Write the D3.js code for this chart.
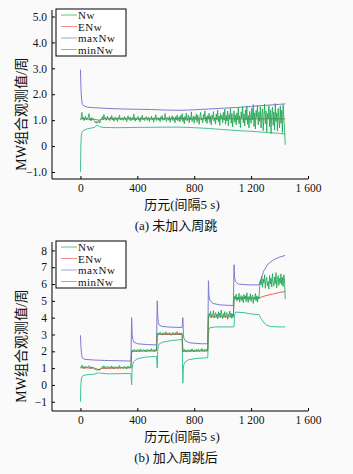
<!DOCTYPE html>
<html>
<head>
<meta charset="utf-8">
<script src="https://cdn.jsdelivr.net/npm/d3@7"></script>
<style>
  body { margin: 0; background: #fafafa; }
  svg text { font-family: "Liberation Serif", "DejaVu Serif", "Noto Sans CJK SC", serif; fill: #111; }
  .axis path, .axis line { stroke: #000; }
  .axis text { font-size: 11.5px; }
</style>
</head>
<body>
<div id="chart"></div>
<script>
// sample epochs for the noisy Nw series (every 5 epochs)
const epochs = d3.range(0, 1445, 5);

const seriesNames = ['Nw', 'ENw', 'maxNw', 'minNw'];
const xTicks = [0, 400, 800, 1200, 1600];

// ---- (a) without cycle slips ----
const nwA = [
  1.00, 1.08, 1.30, 1.05, 1.12, 0.98, 1.06, 1.15, 1.02, 1.09,
  1.04, 1.11, 1.25, 1.00, 1.07, 0.97, 1.10, 1.03, 1.06, 0.99,
  0.94, 0.90, 0.96, 0.88, 0.93, 0.91, 0.99, 0.89, 0.95, 1.02,
  1.08, 1.14, 1.01, 1.22, 1.06, 1.10, 0.99, 1.05, 1.16, 1.03,
  1.07, 0.98, 1.12, 1.04, 1.18, 1.01, 1.09, 0.96, 1.06, 1.13,
  1.02, 1.08, 0.95, 1.11, 1.05, 1.20, 1.00, 1.07, 1.03, 1.10,
  0.99, 1.06, 1.14, 1.02, 1.09, 0.94, 1.08, 1.17, 1.03, 1.05,
  1.12, 0.97, 1.06, 1.10, 1.01, 1.24, 1.04, 0.96, 1.09, 1.02,
  1.08, 1.15, 1.00, 1.06, 0.93, 1.11, 1.04, 1.19, 1.02, 1.07,
  0.98, 1.10, 1.05, 1.14, 0.99, 1.06, 1.12, 0.95, 1.08, 1.03,
  1.16, 1.01, 1.07, 0.92, 1.10, 1.04, 1.21, 0.98, 1.06, 1.11,
  1.00, 1.08, 0.94, 1.13, 1.05, 1.18, 0.99, 1.07, 1.02, 1.26,
  1.03, 0.95, 1.11, 1.06, 1.00, 1.15, 0.92, 1.09, 1.04, 1.17,
  0.98, 1.12, 1.05, 0.90, 1.14, 1.02, 1.20, 0.97, 1.08, 1.13,
  0.93, 1.18, 1.04, 1.25, 0.95, 1.10, 0.86, 1.15, 1.02, 1.28,
  0.97, 1.08, 1.20, 0.90, 1.12, 1.01, 1.32, 0.94, 1.06, 1.16,
  0.88, 1.14, 1.03, 1.24, 0.92, 1.19, 1.05, 0.84, 1.12, 1.30,
  1.00, 1.09, 0.90, 1.22, 1.06, 1.36, 0.95, 1.13, 0.87, 1.18,
  1.04, 1.27, 0.91, 1.15, 0.82, 1.20, 1.08, 1.33, 0.96, 1.11,
  0.85, 1.24, 1.02, 1.38, 0.93, 1.16, 0.80, 1.26, 1.06, 1.19,
  0.90, 1.30, 1.00, 1.42, 0.84, 1.18, 0.97, 1.35, 0.78, 1.22,
  1.05, 1.45, 0.88, 1.26, 0.74, 1.15, 1.36, 0.92, 1.20, 0.82,
  1.28, 1.02, 1.48, 0.86, 1.17, 0.72, 1.32, 1.08, 1.52, 0.90,
  1.24, 0.78, 1.40, 1.00, 1.55, 0.84, 1.18, 0.70, 1.34, 1.12,
  0.88, 1.46, 1.02, 1.60, 0.76, 1.28, 0.66, 1.38, 1.10, 1.58,
  0.82, 1.30, 0.95, 1.52, 0.70, 1.22, 1.44, 0.60, 1.18, 1.62,
  0.86, 1.36, 0.55, 1.25, 1.05, 1.56, 0.74, 1.40, 0.48, 1.20,
  1.50, 0.80, 1.32, 0.62, 1.64, 0.95, 1.28, 0.58, 1.45, 1.02,
  0.70, 1.55, 0.88, 1.38, 0.52, 1.60, 1.10, 0.65, 0.05
];
const enwA = [[0, 1.05], [100, 1.03], [130, 1.0], [160, 1.05], [700, 1.05], [1440, 1.05]];
const maxA = [[0, 2.95], [4, 2.2], [8, 1.8], [14, 1.6], [25, 1.55], [50, 1.5], [100, 1.48],
  [200, 1.45], [300, 1.43], [400, 1.42], [500, 1.41], [600, 1.39], [700, 1.38], [800, 1.4],
  [900, 1.43], [1000, 1.46], [1100, 1.49], [1200, 1.53], [1300, 1.57], [1400, 1.61], [1440, 1.63]];
const minA = [[0, -1.0], [3, 0.0], [6, 0.4], [12, 0.55], [25, 0.62], [50, 0.67], [80, 0.7],
  [100, 0.72], [110, 0.78], [120, 0.8], [135, 0.75], [160, 0.72], [250, 0.71], [400, 0.72],
  [600, 0.73], [700, 0.73], [800, 0.71], [900, 0.68], [1000, 0.64], [1100, 0.6], [1200, 0.57],
  [1300, 0.53], [1400, 0.49], [1440, 0.46]];

// ---- (b) with cycle slips ----
const nwB = [
  1.00, 1.06, 1.18, 1.03, 1.10, 0.97, 1.05, 1.12, 1.01, 1.07,
  1.03, 1.09, 1.15, 0.99, 1.06, 0.96, 1.08, 1.02, 1.05, 0.98,
  0.95, 0.90, 0.93, 0.86, 0.91, 0.88, 0.96, 0.87, 0.94, 1.00,
  1.05, 1.10, 0.99, 1.14, 1.03, 1.08, 0.97, 1.04, 1.12, 1.01,
  1.06, 0.98, 1.09, 1.02, 1.13, 1.00, 1.07, 0.95, 1.04, 1.10,
  1.01, 1.06, 0.96, 1.09, 1.03, 1.15, 0.99, 1.05, 1.02, 1.08,
  0.98, 1.04, 1.11, 1.00, 1.07, 0.94, 1.06, 1.13, 1.02, 1.05,
  1.09, 0.99,
  2.00, 2.08, 1.97, 2.05, 2.12, 2.01, 2.06, 1.98, 2.10, 2.03,
  2.07, 1.99, 2.14, 2.04, 2.09, 2.00, 2.06, 2.11, 2.02, 2.08,
  1.96, 2.05, 2.13, 2.03, 2.07, 2.00, 2.10, 2.04, 2.16, 2.01,
  2.06, 2.09, 1.98, 2.12, 2.04, 2.07,
  3.02, 3.10, 2.98, 3.07, 3.14, 3.01, 3.06, 2.96, 3.11, 3.04,
  3.08, 3.00, 3.16, 3.03, 3.09, 2.97, 3.06, 3.12, 3.01, 3.07,
  2.95, 3.05, 3.13, 3.02, 3.08, 2.99, 3.11, 3.04, 3.17, 3.00,
  3.06, 3.10, 2.97, 3.09, 3.03, 3.08,
  1.98, 2.06, 2.12, 2.00, 2.08, 1.95, 2.04, 2.11, 2.02, 2.07,
  1.97, 2.10, 2.03, 2.15, 2.01, 2.06, 1.96, 2.09, 2.04, 2.12,
  2.00, 2.07, 2.14, 1.98, 2.05, 2.10, 2.02, 2.17, 2.03, 2.08,
  1.99, 2.11, 2.05, 2.13, 2.01, 2.06,
  4.05, 4.25, 4.10, 4.38, 4.00, 4.20, 4.12, 4.42, 3.98, 4.18,
  4.30, 4.05, 4.22, 3.92, 4.35, 4.10, 4.28, 4.02, 4.45, 4.15,
  3.95, 4.24, 4.08, 4.36, 4.00, 4.18, 4.30, 3.90, 4.20, 4.12,
  4.40, 4.05, 4.26, 3.96, 4.22, 4.10,
  5.05, 5.28, 5.10, 5.40, 4.98, 5.22, 5.08, 5.45, 4.92, 5.18,
  5.32, 5.02, 5.25, 4.88, 5.38, 5.12, 5.30, 4.95, 5.48, 5.10,
  4.90, 5.26, 5.06, 5.42, 4.96, 5.20, 5.35, 4.85, 5.22, 5.08,
  5.44, 5.00, 5.30, 4.92, 5.25, 5.12,
  5.85, 6.20, 5.95, 6.45, 5.80, 6.30, 6.05, 6.55, 5.75, 6.25,
  6.40, 5.90, 6.15, 5.70, 6.50, 6.00, 6.35, 5.82, 6.62, 6.10,
  5.88, 6.42, 6.02, 6.68, 5.78, 6.28, 6.50, 5.92, 6.35, 6.05,
  6.60, 5.95, 6.40, 5.85, 6.55, 6.20, 5.10
];
const enwB = [[0, 1.02], [100, 1.0], [130, 0.9], [150, 0.98], [355, 1.02], [360, 2.0], [535, 2.02],
  [540, 3.0], [715, 3.0], [720, 2.0], [895, 2.02], [900, 4.05], [1075, 4.05], [1080, 5.15],
  [1255, 5.18], [1300, 5.3], [1350, 5.4], [1400, 5.5], [1440, 5.55]];
const maxB = [[0, 2.95], [4, 2.2], [8, 1.8], [14, 1.6], [30, 1.52], [100, 1.48], [200, 1.45], [355, 1.42],
  [360, 4.0], [364, 3.0], [368, 2.7], [375, 2.55], [400, 2.45], [470, 2.4], [535, 2.38],
  [540, 5.0], [544, 4.0], [548, 3.7], [555, 3.55], [580, 3.47], [650, 3.43], [715, 3.42],
  [720, 4.0], [724, 3.0], [728, 2.75], [740, 2.6], [770, 2.5], [850, 2.45], [895, 2.45],
  [900, 6.2], [904, 5.3], [910, 5.05], [930, 4.85], [980, 4.76], [1075, 4.72],
  [1080, 7.15], [1084, 6.4], [1090, 6.15], [1110, 6.0], [1180, 5.95], [1255, 5.95],
  [1270, 6.3], [1290, 6.8], [1320, 7.2], [1360, 7.45], [1400, 7.6], [1440, 7.7]];
const minB = [[0, -1.0], [3, 0.0], [6, 0.35], [12, 0.5], [25, 0.58], [60, 0.62], [100, 0.64],
  [120, 0.72], [135, 0.7], [200, 0.66], [355, 0.68],
  [360, 0.0], [363, 0.9], [367, 1.2], [375, 1.4], [400, 1.55], [450, 1.65], [535, 1.7],
  [540, 1.0], [543, 2.0], [547, 2.3], [555, 2.45], [580, 2.55], [650, 2.65], [715, 2.7],
  [720, 0.1], [723, 0.9], [727, 1.2], [735, 1.35], [760, 1.5], [820, 1.58], [895, 1.62],
  [900, 3.0], [904, 3.3], [910, 3.4], [950, 3.45], [1075, 3.45],
  [1080, 3.45], [1083, 4.1], [1090, 4.33], [1150, 4.3], [1200, 4.22], [1255, 4.18],
  [1270, 3.95], [1290, 3.7], [1310, 3.55], [1340, 3.47], [1400, 3.45], [1440, 3.45]];

const colors = { Nw: '#17a34f', ENw: '#e8635d', maxNw: '#7c7cd4', minNw: '#3fc29f' };
const legendColors = { Nw: '#5cc48a', ENw: '#f08c8c', maxNw: '#a6a0dc', minNw: '#62cca8' };

const svg = d3.select('#chart').append('svg')
    .attr('width', 353)
    .attr('height', 474);

function drawPanel(cfg) {
  const x = d3.scaleLinear().domain([-200, 1600]).range([52, 308]);
  const y = d3.scaleLinear().domain(cfg.yDomain).range([cfg.bottom, cfg.top]);
  const g = svg.append('g');

  const line = d3.line().x(d => x(d[0])).y(d => y(d[1]));
  const nwPts = epochs.map((e, i) => [e, cfg.nw[i]]);

  // envelopes first, noisy Nw over them
  const lines = [
    { key: 'maxNw', pts: cfg.max, w: 1 },
    { key: 'minNw', pts: cfg.min, w: 1 },
    { key: 'ENw', pts: cfg.enw, w: 1 },
    { key: 'Nw', pts: nwPts, w: 0.8 }
  ];
  g.selectAll('.series')
      .data(lines)
    .join('path')
      .attr('class', 'series')
      .attr('fill', 'none')
      .attr('stroke', d => colors[d.key])
      .attr('stroke-width', d => d.w)
      .attr('d', d => line(d.pts));

  // axes
  const xAxis = d3.axisBottom(x).tickValues(xTicks).tickSizeInner(-3).tickSizeOuter(0)
      .tickPadding(5)
      .tickFormat(d => d >= 1000 ? Math.floor(d / 1000) + ' ' + d3.format('03d')(d % 1000) : d);
  const xg = g.append('g').attr('class', 'axis')
      .attr('transform', `translate(0,${cfg.bottom})`)
      .call(xAxis);
  xg.select('.domain').attr('d', 'M52,0H308');

  const yAxis = d3.axisLeft(y).tickValues(cfg.yTicks).tickSizeInner(-3).tickSizeOuter(0)
      .tickPadding(5).tickFormat(cfg.yFmt);
  const yg = g.append('g').attr('class', 'axis')
      .attr('transform', 'translate(52,0)')
      .call(yAxis);
  yg.select('.domain').attr('d', `M0,${cfg.top}V${cfg.bottom}`);

  // legend
  const lg = g.append('g').attr('transform', `translate(56,${cfg.legTop})`);
  lg.append('rect')
      .attr('width', 70).attr('height', 47)
      .attr('fill', '#fff').attr('stroke', '#000').attr('stroke-width', 1);
  lg.selectAll('.leg')
      .data(seriesNames)
    .join('g')
      .attr('transform', (d, i) => `translate(0,${6 + i * 11.5})`)
      .each(function(d) {
        const e = d3.select(this);
        e.append('line').attr('x1', 5).attr('x2', 21).attr('y1', 0).attr('y2', 0)
          .attr('stroke', legendColors[d]).attr('stroke-width', 1);
        e.append('text').attr('x', 22).attr('y', 4).text(d)
          .attr('font-size', 11).attr('letter-spacing', 0.5);
      });

  // titles
  g.append('text')
      .attr('transform', `translate(26,${cfg.yLabelY}) rotate(-90)`)
      .attr('text-anchor', 'middle')
      .attr('font-size', 14)
      .text('MW组合观测值/周');
  g.append('text')
      .attr('x', 182).attr('y', cfg.xLabelY)
      .attr('text-anchor', 'middle')
      .attr('font-size', 13)
      .text('历元(间隔5 s)');
  g.append('text')
      .attr('x', 176).attr('y', cfg.capY)
      .attr('text-anchor', 'middle')
      .attr('font-size', 13)
      .text(cfg.caption);
}

drawPanel({
  nw: nwA, enw: enwA, max: maxA, min: minA,
  yDomain: [-1.27, 5.25], top: 10, bottom: 179,
  yTicks: [-1, 0, 1, 2, 3, 4, 5],
  yFmt: d => d === 0 ? '0' : d3.format('.1f')(d).replace('-', '\u2212'),
  legTop: 9, yLabelY: 114, xLabelY: 209, capY: 230,
  caption: '(a) 未加入周跳'
});

drawPanel({
  nw: nwB, enw: enwB, max: maxB, min: minB,
  yDomain: [-1.55, 8.5], top: 242, bottom: 411,
  yTicks: [-1, 0, 1, 2, 3, 4, 5, 6, 7, 8],
  yFmt: d => String(d).replace('-', '\u2212'),
  legTop: 241, yLabelY: 346, xLabelY: 441, capY: 462,
  caption: '(b) 加入周跳后'
});
</script>
</body>
</html>
